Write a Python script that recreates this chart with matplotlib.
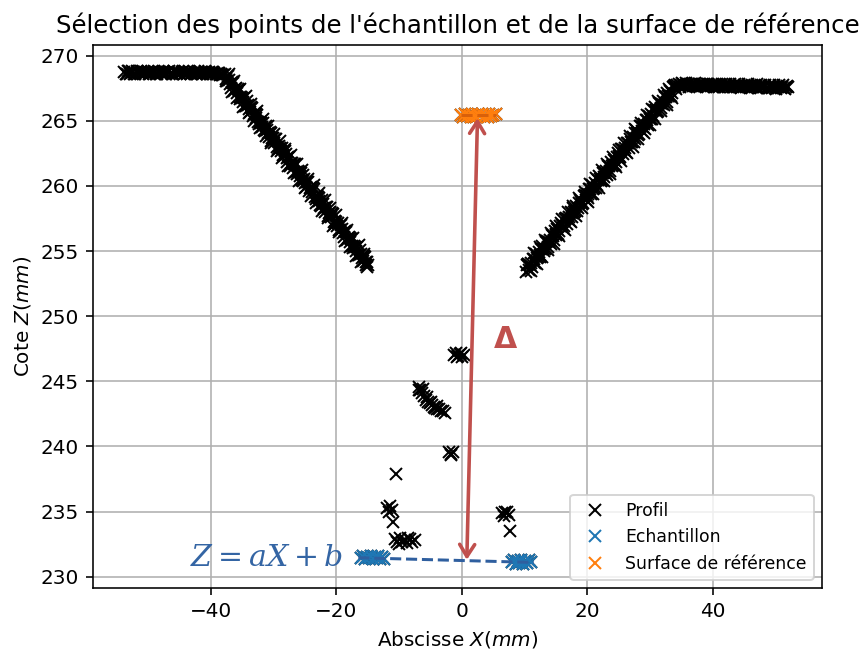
import matplotlib.pyplot as plt

# Plusieurs rangées de points par tronçon (le profil est très dense)
plateau_g_x = [
    -53.8, -53.45, -53.1, -52.75, -52.4, -52.05, -51.7, -51.35, -51.0, -50.65,
    -50.3, -49.95, -49.6, -49.25, -48.9, -48.55, -48.2, -47.85, -47.5, -47.15,
    -46.8, -46.45, -46.1, -45.75, -45.4, -45.05, -44.7, -44.35, -44.0, -43.65,
    -43.3, -42.95, -42.6, -42.25, -41.9, -41.55, -41.2, -40.85, -40.5, -40.15,
    -39.8, -39.45, -39.1, -38.75, -38.4, -38.05,
    -53.62, -53.27, -52.92, -52.57, -52.22, -51.87, -51.52, -51.17, -50.82, -50.47,
    -50.12, -49.77, -49.42, -49.07, -48.72, -48.37, -48.02, -47.67, -47.32, -46.97,
    -46.62, -46.27, -45.92, -45.57, -45.22, -44.87, -44.52, -44.17, -43.82, -43.47,
    -43.12, -42.77, -42.42, -42.07, -41.72, -41.37, -41.02, -40.67, -40.32, -39.97,
    -39.62, -39.27, -38.92, -38.57, -38.22,
]
plateau_g_z = [
    268.72, 268.61, 268.78, 268.66, 268.70, 268.59, 268.75, 268.68, 268.63, 268.77,
    268.69, 268.60, 268.74, 268.66, 268.71, 268.62, 268.76, 268.65, 268.70, 268.58,
    268.73, 268.67, 268.61, 268.75, 268.69, 268.64, 268.72, 268.60, 268.77, 268.66,
    268.70, 268.63, 268.74, 268.59, 268.68, 268.72, 268.62, 268.75, 268.66, 268.61,
    268.70, 268.64, 268.58, 268.67, 268.55, 268.50,
    268.57, 268.83, 268.62, 268.80, 268.56, 268.78, 268.66, 268.84, 268.58, 268.74,
    268.82, 268.56, 268.70, 268.84, 268.58, 268.76, 268.64, 268.83, 268.57, 268.72,
    268.80, 268.57, 268.84, 268.63, 268.75, 268.56, 268.81, 268.68, 268.58, 268.84,
    268.61, 268.77, 268.57, 268.82, 268.66, 268.56, 268.79, 268.60, 268.74, 268.56,
    268.70, 268.56, 268.66, 268.52, 268.48,
]
pente_g_x = [
    -37.7, -37.4, -37.1, -36.8, -36.5, -36.2, -35.9, -35.6, -35.3, -35.0,
    -34.7, -34.4, -34.1, -33.8, -33.5, -33.2, -32.9, -32.6, -32.3, -32.0,
    -31.7, -31.4, -31.1, -30.8, -30.5, -30.2, -29.9, -29.6, -29.3, -29.0,
    -28.7, -28.4, -28.1, -27.8, -27.5, -27.2, -26.9, -26.6, -26.3, -26.0,
    -25.7, -25.4, -25.1, -24.8, -24.5, -24.2, -23.9, -23.6, -23.3, -23.0,
    -22.7, -22.4, -22.1, -21.8, -21.5, -21.2, -20.9, -20.6, -20.3, -20.0,
    -19.7, -19.4, -19.1, -18.8, -18.5, -18.2, -17.9, -17.6, -17.3, -17.0,
    -16.7, -16.4, -16.1, -15.8, -15.5, -15.2, -14.9,
    -37.55, -37.25, -36.95, -36.65, -36.35, -36.05, -35.75, -35.45, -35.15, -34.85,
    -34.55, -34.25, -33.95, -33.65, -33.35, -33.05, -32.75, -32.45, -32.15, -31.85,
    -31.55, -31.25, -30.95, -30.65, -30.35, -30.05, -29.75, -29.45, -29.15, -28.85,
    -28.55, -28.25, -27.95, -27.65, -27.35, -27.05, -26.75, -26.45, -26.15, -25.85,
    -25.55, -25.25, -24.95, -24.65, -24.35, -24.05, -23.75, -23.45, -23.15, -22.85,
    -22.55, -22.25, -21.95, -21.65, -21.35, -21.05, -20.75, -20.45, -20.15, -19.85,
    -19.55, -19.25, -18.95, -18.65, -18.35, -18.05, -17.75, -17.45, -17.15, -16.85,
    -16.55, -16.25, -15.95, -15.65, -15.35, -15.05,
    -37.6, -37.15, -36.7, -36.25, -35.8, -35.35, -34.9, -34.45, -34.0, -33.55,
    -33.1, -32.65, -32.2, -31.75, -31.3, -30.85, -30.4, -29.95, -29.5, -29.05,
    -28.6, -28.15, -27.7, -27.25, -26.8, -26.35, -25.9, -25.45, -25.0, -24.55,
    -24.1, -23.65, -23.2, -22.75, -22.3, -21.85, -21.4, -20.95, -20.5, -20.05,
    -19.6, -19.15, -18.7, -18.25, -17.8, -17.35, -16.9, -16.45, -16.0, -15.55, -15.1,
]
pente_g_z = [
    268.55, 268.02, 268.13, 267.54, 267.90, 267.46, 267.12, 267.38, 266.64, 266.75,
    266.71, 266.11, 266.22, 265.63, 265.99, 265.55, 265.21, 265.47, 264.73, 264.84,
    264.80, 264.21, 264.32, 263.73, 264.09, 263.65, 263.31, 263.57, 262.83, 262.94,
    262.90, 262.30, 262.41, 261.82, 262.18, 261.74, 261.40, 261.66, 260.92, 261.03,
    260.99, 260.40, 260.51, 259.92, 260.28, 259.84, 259.50, 259.76, 259.02, 259.13,
    259.09, 258.49, 258.60, 258.01, 258.37, 257.93, 257.59, 257.85, 257.11, 257.22,
    257.18, 256.59, 256.70, 256.11, 256.47, 256.03, 255.69, 255.95, 255.21, 255.32,
    255.28, 254.68, 254.79, 254.20, 254.56, 254.12, 253.93,
    268.20, 268.42, 267.83, 267.94, 267.25, 267.51, 267.42, 266.78, 266.84, 266.45,
    266.15, 266.51, 265.92, 266.03, 265.34, 265.60, 265.51, 264.87, 264.93, 264.54,
    264.25, 264.61, 264.02, 264.13, 263.44, 263.70, 263.61, 262.97, 263.03, 262.64,
    262.35, 262.70, 262.11, 262.22, 261.53, 261.79, 261.70, 261.06, 261.12, 260.73,
    260.44, 260.80, 260.21, 260.32, 259.63, 259.89, 259.80, 259.16, 259.22, 258.83,
    258.54, 258.89, 258.30, 258.41, 257.72, 257.98, 257.89, 257.25, 257.31, 256.92,
    256.63, 256.99, 256.40, 256.51, 255.82, 256.08, 255.99, 255.35, 255.41, 255.02,
    254.73, 255.08, 254.49, 254.60, 253.91, 254.17,
    268.05, 268.56, 267.23, 268.04, 266.71, 267.42, 266.08, 266.90, 265.56, 266.28,
    264.94, 265.76, 264.42, 265.13, 263.80, 264.61, 263.28, 263.99, 262.66, 263.47,
    262.13, 262.85, 261.51, 262.33, 260.99, 261.71, 260.37, 261.18, 259.85, 260.56,
    259.23, 260.04, 258.70, 259.42, 258.08, 258.90, 257.56, 258.28, 256.94, 257.75,
    256.42, 257.13, 255.80, 256.61, 255.28, 255.99, 254.65, 255.47, 254.13, 254.80, 253.76,
]
fond_x = [
    -1.2, -0.9, -0.6, -0.3, 0.0, 0.3, -0.8, -0.1,
    -6.9, -6.6, -6.3, -6.0, -5.7, -5.4, -5.1, -4.8, -4.5, -4.2,
    -3.9, -3.6, -3.3, -3.0, -2.7, -6.8, -6.2, -5.5, -4.9, -4.0,
    -2.0, -1.7, -1.4, -1.8,
    6.4, 6.8, 7.2, 7.5, 6.9, 7.7,
    -10.5, -11.9, -11.5, -11.2, -11.6, -10.9,
    -10.7, -10.3, -9.9, -9.5, -9.1, -8.7, -8.3, -7.9, -7.5, -10.0, -8.5,
]
fond_z = [
    247.00, 247.15, 246.95, 247.10, 246.90, 247.05, 246.85, 247.20,
    244.60, 244.35, 244.10, 243.85, 243.60, 243.45, 243.30, 243.15, 243.00, 242.95,
    242.85, 242.90, 242.75, 242.70, 242.55, 244.30, 244.40, 243.80, 243.40, 243.10,
    239.60, 239.45, 239.55, 239.35,
    234.90, 234.70, 234.95, 234.75, 235.00, 233.50,
    237.90, 235.30, 235.45, 235.10, 235.00, 234.20,
    232.90, 232.65, 232.95, 232.70, 232.85, 232.60, 232.90, 232.70, 232.80, 232.50, 233.00,
]
pente_d_x = [
    10.3, 10.6, 10.9, 11.2, 11.5, 11.8, 12.1, 12.4, 12.7, 13.0,
    13.3, 13.6, 13.9, 14.2, 14.5, 14.8, 15.1, 15.4, 15.7, 16.0,
    16.3, 16.6, 16.9, 17.2, 17.5, 17.8, 18.1, 18.4, 18.7, 19.0,
    19.3, 19.6, 19.9, 20.2, 20.5, 20.8, 21.1, 21.4, 21.7, 22.0,
    22.3, 22.6, 22.9, 23.2, 23.5, 23.8, 24.1, 24.4, 24.7, 25.0,
    25.3, 25.6, 25.9, 26.2, 26.5, 26.8, 27.1, 27.4, 27.7, 28.0,
    28.3, 28.6, 28.9, 29.2, 29.5, 29.8, 30.1, 30.4, 30.7, 31.0,
    31.3, 31.6, 31.9, 32.2, 32.5, 32.8, 33.1, 33.4, 33.7, 34.0, 34.3,
    10.45, 10.75, 11.05, 11.35, 11.65, 11.95, 12.25, 12.55, 12.85, 13.15,
    13.45, 13.75, 14.05, 14.35, 14.65, 14.95, 15.25, 15.55, 15.85, 16.15,
    16.45, 16.75, 17.05, 17.35, 17.65, 17.95, 18.25, 18.55, 18.85, 19.15,
    19.45, 19.75, 20.05, 20.35, 20.65, 20.95, 21.25, 21.55, 21.85, 22.15,
    22.45, 22.75, 23.05, 23.35, 23.65, 23.95, 24.25, 24.55, 24.85, 25.15,
    25.45, 25.75, 26.05, 26.35, 26.65, 26.95, 27.25, 27.55, 27.85, 28.15,
    28.45, 28.75, 29.05, 29.35, 29.65, 29.95, 30.25, 30.55, 30.85, 31.15,
    31.45, 31.75, 32.05, 32.35, 32.65, 32.95, 33.25, 33.55, 33.85, 34.15,
    10.6, 11.05, 11.5, 11.95, 12.4, 12.85, 13.3, 13.75, 14.2, 14.65,
    15.1, 15.55, 16.0, 16.45, 16.9, 17.35, 17.8, 18.25, 18.7, 19.15,
    19.6, 20.05, 20.5, 20.95, 21.4, 21.85, 22.3, 22.75, 23.2, 23.65,
    24.1, 24.55, 25.0, 25.45, 25.9, 26.35, 26.8, 27.25, 27.7, 28.15,
    28.6, 29.05, 29.5, 29.95, 30.4, 30.85, 31.3, 31.75, 32.2, 32.65,
    33.1, 33.55, 34.0,
]
pente_d_z = [
    253.40, 253.98, 253.90, 253.78, 254.41, 254.74, 254.51, 254.54, 255.17, 255.19,
    255.12, 255.75, 255.67, 255.55, 256.18, 256.51, 256.28, 256.31, 256.94, 256.96,
    256.89, 257.52, 257.44, 257.32, 257.95, 258.28, 258.05, 258.08, 258.71, 258.73,
    258.66, 259.29, 259.21, 259.09, 259.72, 260.05, 259.82, 259.85, 260.48, 260.50,
    260.43, 261.06, 260.98, 260.86, 261.49, 261.82, 261.59, 261.62, 262.25, 262.27,
    262.20, 262.83, 262.75, 262.63, 263.26, 263.59, 263.36, 263.39, 264.02, 264.04,
    263.97, 264.60, 264.52, 264.40, 265.03, 265.36, 265.13, 265.16, 265.79, 265.81,
    265.74, 266.37, 266.29, 266.17, 266.80, 267.13, 266.90, 266.93, 267.56, 267.58, 267.71,
    253.94, 253.57, 254.09, 254.42, 254.05, 254.48, 254.90, 254.73, 255.41, 255.03,
    255.71, 255.34, 255.86, 256.19, 255.82, 256.25, 256.67, 256.50, 257.18, 256.80,
    257.48, 257.11, 257.63, 257.96, 257.59, 258.02, 258.44, 258.27, 258.95, 258.57,
    259.25, 258.88, 259.40, 259.73, 259.36, 259.79, 260.21, 260.04, 260.72, 260.34,
    261.02, 260.65, 261.17, 261.50, 261.13, 261.56, 261.98, 261.81, 262.49, 262.11,
    262.79, 262.42, 262.94, 263.27, 262.90, 263.33, 263.75, 263.58, 264.26, 263.88,
    264.56, 264.19, 264.71, 265.04, 264.67, 265.10, 265.52, 265.35, 266.03, 265.65,
    266.33, 265.96, 266.48, 266.81, 266.44, 266.87, 267.29, 267.12, 267.70, 267.42,
    254.03, 253.45, 254.81, 254.03, 255.29, 254.51, 255.87, 255.09, 256.35, 255.57,
    256.94, 256.15, 257.42, 256.63, 258.00, 257.21, 258.48, 257.69, 259.06, 258.27,
    259.54, 258.76, 260.12, 259.34, 260.60, 259.82, 261.18, 260.40, 261.66, 260.88,
    262.25, 261.46, 262.73, 261.94, 263.31, 262.52, 263.79, 263.00, 264.37, 263.58,
    264.85, 264.07, 265.43, 264.65, 265.91, 265.13, 266.49, 265.71, 266.97, 266.19,
    267.45, 266.77, 267.73,
]
plateau_d_x = [
    34.6, 34.95, 35.3, 35.65, 36.0, 36.35, 36.7, 37.05, 37.4, 37.75,
    38.1, 38.45, 38.8, 39.15, 39.5, 39.85, 40.2, 40.55, 40.9, 41.25,
    41.6, 41.95, 42.3, 42.65, 43.0, 43.35, 43.7, 44.05, 44.4, 44.75,
    45.1, 45.45, 45.8, 46.15, 46.5, 46.85, 47.2, 47.55, 47.9, 48.25,
    48.6, 48.95, 49.3, 49.65, 50.0, 50.35, 50.7, 51.05, 51.4, 51.75, 52.0,
    34.78, 35.13, 35.48, 35.83, 36.18, 36.53, 36.88, 37.23, 37.58, 37.93,
    38.28, 38.63, 38.98, 39.33, 39.68, 40.03, 40.38, 40.73, 41.08, 41.43,
    41.78, 42.13, 42.48, 42.83, 43.18, 43.53, 43.88, 44.23, 44.58, 44.93,
    45.28, 45.63, 45.98, 46.33, 46.68, 47.03, 47.38, 47.73, 48.08, 48.43,
    48.78, 49.13, 49.48, 49.83, 50.18, 50.53, 50.88, 51.23, 51.58, 51.93,
]
plateau_d_z = [
    267.80, 267.72, 267.85, 267.70, 267.78, 267.66, 267.82, 267.74, 267.69, 267.80,
    267.71, 267.77, 267.64, 267.79, 267.70, 267.75, 267.62, 267.76, 267.68, 267.73,
    267.60, 267.74, 267.67, 267.71, 267.58, 267.72, 267.65, 267.69, 267.57, 267.70,
    267.63, 267.68, 267.55, 267.67, 267.62, 267.66, 267.54, 267.65, 267.60, 267.64,
    267.52, 267.63, 267.58, 267.62, 267.50, 267.61, 267.56, 267.60, 267.48, 267.58, 267.55,
    267.62, 267.88, 267.68, 267.86, 267.60, 267.84, 267.65, 267.87, 267.61, 267.83,
    267.64, 267.85, 267.58, 267.82, 267.63, 267.84, 267.57, 267.80, 267.62, 267.83,
    267.56, 267.79, 267.61, 267.82, 267.55, 267.78, 267.60, 267.80, 267.53, 267.77,
    267.58, 267.79, 267.52, 267.76, 267.57, 267.78, 267.50, 267.74, 267.55, 267.76,
    267.48, 267.73, 267.53, 267.74, 267.46, 267.71, 267.51, 267.72, 267.45, 267.66,
]

# Points de l'échantillon (fond de l'entaille)
echant_x = [-16.0, -15.7, -15.4, -15.1, -14.8, -14.5, -14.2, -13.9, -13.6, -13.3,
            -13.0, -12.7, -12.4,
            8.0, 8.3, 8.6, 8.9, 9.2, 9.5, 9.8, 10.1, 10.4, 10.7, 11.0]
echant_z = [231.45, 231.58, 231.38, 231.52, 231.42, 231.60, 231.35, 231.50, 231.44, 231.56,
            231.36, 231.48, 231.40,
            231.15, 231.30, 231.00, 231.22, 231.08, 231.32, 230.98, 231.18, 231.05, 231.25, 231.10]

# Points de la surface de référence
surf_x = [-0.1, 0.2, 0.5, 0.8, 1.1, 1.4, 1.7, 2.0, 2.3, 2.6,
          2.9, 3.2, 3.5, 3.8, 4.1, 4.4, 4.7, 5.0, 5.4]
surf_z = [265.40, 265.25, 265.50, 265.35, 265.45, 265.30, 265.52, 265.38, 265.28, 265.48,
          265.36, 265.50, 265.30, 265.42, 265.25, 265.48, 265.35, 265.45, 265.50]

# Droite Z = aX + b ajustée sur l'échantillon
droite_x = [-16.5, 11.5]
droite_z = [231.46, 231.10]

# Droite moyenne de la surface de référence
surf_ligne_x = [-0.1, 5.4]
surf_ligne_z = [265.40, 265.40]

# Flèche Delta (bas -> haut)
delta_bas = (0.8, 231.3)
delta_haut = (2.5, 265.2)

profil_x = plateau_g_x + pente_g_x + fond_x + pente_d_x + plateau_d_x + echant_x + surf_x
profil_z = plateau_g_z + pente_g_z + fond_z + pente_d_z + plateau_d_z + echant_z + surf_z

fig, ax = plt.subplots(figsize=(862 / 144, 650 / 144), dpi=144)
fig.subplots_adjust(left=0.108, right=0.954, top=0.931, bottom=0.095)

ax.plot(profil_x, profil_z, 'x', color='k', label='Profil')
ax.plot(echant_x, echant_z, 'x', color='C0', label='Echantillon')
ax.plot(surf_x, surf_z, 'x', color='C1', label='Surface de référence')
ax.plot(droite_x, droite_z, '--', color='#2f5f9f', lw=1.5)
ax.plot(surf_ligne_x, surf_ligne_z, '--', color='#d9600a', lw=1.5)

ax.annotate('', xy=delta_haut, xytext=delta_bas,
            arrowprops=dict(arrowstyle='<->, head_length=0.4, head_width=0.25',
                            color='#c0504d', lw=1.8, mutation_scale=15,
                            shrinkA=0, shrinkB=0))
ax.text(6.9, 248.2, 'Δ', fontsize=15, fontweight='bold', color='#c0504d',
        ha='center', va='center')
ax.text(-31.2, 231.5, r'$Z = aX + b$', fontsize=15, color='#3465a4',
        ha='center', va='center', math_fontfamily='dejavuserif')

ax.set_xlim(-58.8, 57.5)
ax.set_ylim(229.12, 270.82)
ax.set_xticks([-40, -20, 0, 20, 40])
ax.set_yticks([230, 235, 240, 245, 250, 255, 260, 265, 270])
ax.grid(True)

ax.set_title("Sélection des points de l'échantillon et de la surface de référence",
             fontsize=12.2)
ax.set_xlabel('Abscisse $X(mm)$')
ax.set_ylabel('Cote $Z(mm)$')
ax.legend(loc='lower right', fontsize=8.6)

plt.savefig('out.png', dpi=144)
